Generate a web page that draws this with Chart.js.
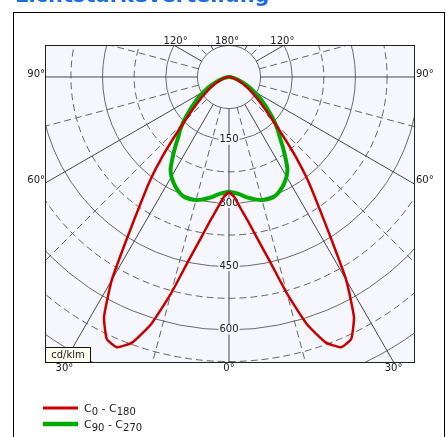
<!DOCTYPE html>
<html>
<head>
<meta charset="utf-8">
<script src="https://cdn.jsdelivr.net/npm/chart.js@4.4.1/dist/chart.umd.min.js"></script>
<style>
  html, body { margin: 0; padding: 0; background: #fff; }
  canvas { display: block; }
</style>
</head>
<body>
<canvas id="ldc" width="446" height="437"></canvas>
<script>
// gamma angles (deg from nadir) and intensities in cd/klm
const gammaAngles = [0, 2.5, 5, 7.5, 10, 12.5, 15, 17.5, 20, 22.5, 25, 27.5, 30, 32.5, 35, 37.5, 40, 42.5, 45,
  47.5, 50, 52.5, 55, 57.5, 60, 62.5, 65, 67.5, 70, 72.5, 75, 77.5, 80, 82.5, 85, 87.5, 90];
const c0 = [273, 285, 312, 345, 390, 448, 532, 615, 670, 694, 686, 642, 556, 445, 365, 305, 245, 190, 150,
  122, 100, 84, 71, 60, 50, 41, 34, 27, 21, 17, 13, 10, 7, 5, 3, 1, 0];
const c180 = [273, 285, 312, 345, 390, 448, 532, 615, 670, 694, 686, 642, 556, 445, 365, 305, 245, 190, 150,
  122, 100, 84, 71, 60, 50, 41, 34, 27, 21, 17, 13, 10, 7, 5, 3, 1, 0];
const c90 = [272, 275, 279, 286, 292, 298, 302, 304, 304, 300, 293, 284, 273, 258, 233, 210, 188, 172, 155,
  137, 120, 105, 92, 79, 67, 56, 46, 37, 29, 22, 16, 11, 8, 5, 3, 1, 0];
const c270 = [272, 275, 279, 286, 292, 298, 302, 304, 304, 300, 293, 284, 273, 258, 233, 210, 188, 172, 155,
  137, 120, 105, 92, 79, 67, 56, 46, 37, 29, 22, 16, 11, 8, 5, 3, 1, 0];

const ringValues = [75, 150, 225, 300, 375, 450, 525, 600, 675, 750, 825];
const ringLabels = [150, 300, 450, 600];
const spokeAngles = [0, 15, 30, 45, 60, 75, 90, 105, 120, 135, 150, 165, 180];
const angleTicks = [0, 30, 60, 90, 120, 180];

const plotBg = '#f5f7fd';
const txt = '#222';
const font10 = '10px "DejaVu Sans", Verdana, sans-serif';

function toXY(gamma, value, side) {
  const a = gamma * Math.PI / 180;
  return { x: side * value * Math.sin(a), y: -value * Math.cos(a) };
}
function polarLine(leftVals, rightVals) {
  const pts = [];
  for (let i = gammaAngles.length - 1; i >= 0; i--) pts.push(toXY(gammaAngles[i], leftVals[i], -1));
  for (let i = 0; i < gammaAngles.length; i++) pts.push(toXY(gammaAngles[i], rightVals[i], 1));
  return pts;
}

const ldcGrid = {
  id: 'ldcGrid',
  beforeDraw(chart) {
    const { ctx, chartArea: a } = chart;
    ctx.save();
    ctx.fillStyle = '#fff';
    ctx.fillRect(0, 0, chart.width, chart.height);
    // title, mostly cut off at the top
    ctx.fillStyle = '#1c6ee8';
    ctx.font = 'bold 21px "DejaVu Sans", Verdana, sans-serif';
    ctx.textBaseline = 'alphabetic';
    ctx.fillText('Lichtstärkeverteilung', 15, 2);
    // outer frame
    ctx.strokeStyle = '#000';
    ctx.lineWidth = 1;
    ctx.strokeRect(13.5, 12.5, 431, 500);
    ctx.fillStyle = plotBg;
    ctx.fillRect(a.left, a.top, a.right - a.left, a.bottom - a.top);
    ctx.restore();
  },
  beforeDatasetsDraw(chart) {
    const { ctx, chartArea: a, scales: { x, y } } = chart;
    const cx = x.getPixelForValue(0), cy = y.getPixelForValue(0);
    const px = v => x.getPixelForValue(v) - cx;
    ctx.save();
    ctx.beginPath();
    ctx.rect(a.left, a.top, a.right - a.left, a.bottom - a.top);
    ctx.clip();
    ctx.lineWidth = 1;
    // rings
    ringValues.forEach((v, i) => {
      const solid = i === 0 || i % 2 === 1;
      ctx.setLineDash(solid ? [] : [7, 4]);
      ctx.strokeStyle = solid ? '#6a6a6a' : '#666';
      ctx.beginPath();
      ctx.arc(cx, cy, px(v), 0, Math.PI * 2);
      ctx.stroke();
    });
    // spokes
    spokeAngles.forEach(g => {
      const solid = g % 30 === 0;
      ctx.setLineDash(solid ? [] : [7, 4]);
      ctx.strokeStyle = solid ? '#484848' : '#666';
      const sides = (g === 0 || g === 180) ? [1] : [-1, 1];
      sides.forEach(s => {
        const p0 = toXY(g, ringValues[0], s), p1 = toXY(g, 1200, s);
        ctx.beginPath();
        ctx.moveTo(x.getPixelForValue(p0.x), y.getPixelForValue(p0.y));
        ctx.lineTo(x.getPixelForValue(p1.x), y.getPixelForValue(p1.y));
        ctx.stroke();
      });
    });
    ctx.setLineDash([]);
    // ring labels
    ctx.font = font10;
    ctx.textAlign = 'center';
    ctx.textBaseline = 'middle';
    ringLabels.forEach(v => {
      const ly = cy + px(v) - 0.5;
      const w = ctx.measureText(String(v)).width;
      ctx.fillStyle = plotBg;
      ctx.fillRect(cx - w / 2 - 1, ly - 5, w + 2, 10);
      ctx.fillStyle = txt;
      ctx.fillText(String(v), cx, ly);
    });
    ctx.restore();
  },
  afterDatasetsDraw(chart) {
    const { ctx, chartArea: a, scales: { x, y } } = chart;
    const cx = x.getPixelForValue(0), cy = y.getPixelForValue(0);
    ctx.save();
    // plot border
    ctx.strokeStyle = '#222';
    ctx.lineWidth = 1;
    ctx.strokeRect(a.left + 0.5, a.top + 0.5, a.right - a.left, a.bottom - a.top);
    // unit box
    ctx.fillStyle = '#fffdee';
    ctx.fillRect(a.left, a.bottom - 15, 45, 15);
    ctx.strokeStyle = '#111';
    ctx.strokeRect(a.left + 0.5, a.bottom - 14.5, 45, 15);
    ctx.fillStyle = txt;
    ctx.font = font10;
    ctx.textAlign = 'center';
    ctx.textBaseline = 'middle';
    ctx.fillText('cd/klm', a.left + 23, a.bottom - 7);
    // angle labels where spokes meet the frame
    angleTicks.forEach(g => {
      const sides = (g === 0 || g === 180) ? [1] : [-1, 1];
      sides.forEach(s => {
        const r = g * Math.PI / 180;
        const dx = s * Math.sin(r), dy = Math.cos(r);
        let t = Infinity, edge = '';
        if (dx > 1e-9) { const tt = (a.right - cx) / dx; if (tt < t) { t = tt; edge = 'right'; } }
        if (dx < -1e-9) { const tt = (a.left - cx) / dx; if (tt < t) { t = tt; edge = 'left'; } }
        if (dy > 1e-9) { const tt = (a.bottom - cy) / dy; if (tt < t) { t = tt; edge = 'bottom'; } }
        if (dy < -1e-9) { const tt = (a.top - cy) / dy; if (tt < t) { t = tt; edge = 'top'; } }
        const ix = cx + dx * t, iy = cy + dy * t;
        const label = g + '°';
        if (edge === 'bottom') {
          ctx.textAlign = 'center'; ctx.textBaseline = 'top';
          ctx.fillText(label, ix, a.bottom + 1);
        } else if (edge === 'top') {
          ctx.textAlign = 'center'; ctx.textBaseline = 'alphabetic';
          ctx.fillText(label, ix - s * 2, a.top - 1);
        } else if (edge === 'left') {
          ctx.textAlign = 'right'; ctx.textBaseline = 'middle';
          ctx.fillText(label, a.left, iy - 3);
        } else {
          ctx.textAlign = 'left'; ctx.textBaseline = 'middle';
          ctx.fillText(label, a.right + 2, iy - 3);
        }
      });
    });
    ctx.restore();
  },
  afterDraw(chart) {
    const ctx = chart.ctx;
    ctx.save();
    chart.data.datasets.forEach((ds, i) => {
      const ly = i === 0 ? 408 : 424;
      ctx.strokeStyle = ds.borderColor;
      ctx.lineWidth = ds.borderWidth + 0.5;
      ctx.beginPath();
      ctx.moveTo(43, ly);
      ctx.lineTo(78, ly);
      ctx.stroke();
      let tx = 84;
      const base = ly + 4;
      ctx.fillStyle = txt;
      ctx.textAlign = 'left';
      ctx.textBaseline = 'alphabetic';
      ds.labelParts.forEach((p, j) => {
        ctx.font = j % 2 ? '10px "DejaVu Sans", Verdana, sans-serif' : '11px "DejaVu Sans", Verdana, sans-serif';
        ctx.fillText(p, tx, j % 2 ? base + 3 : base);
        tx += ctx.measureText(p).width;
      });
    });
    ctx.restore();
  }
};

new Chart(document.getElementById('ldc'), {
  type: 'scatter',
  data: {
    datasets: [{
      label: 'C0 - C180',
      labelParts: ['C', '0', ' - C', '180'],
      data: polarLine(c180, c0),
      showLine: true,
      borderColor: '#c80000',
      borderWidth: 2.5,
      pointRadius: 0,
      borderJoinStyle: 'round',
      tension: 0.15,
      fill: false
    }, {
      label: 'C90 - C270',
      labelParts: ['C', '90', ' - C', '270'],
      data: polarLine(c270, c90),
      showLine: true,
      borderColor: '#00aa00',
      borderWidth: 4,
      pointRadius: 0,
      borderJoinStyle: 'round',
      tension: 0.15,
      fill: false
    }]
  },
  options: {
    responsive: false,
    animation: false,
    events: [],
    layout: { padding: { left: 45, top: 45, right: 32, bottom: 75 } },
    scales: {
      x: { type: 'linear', min: -436.5, max: 438.9, display: false },
      y: { type: 'linear', min: -676.2, max: 75.9, display: false }
    },
    plugins: { legend: { display: false }, tooltip: { enabled: false } }
  },
  plugins: [ldcGrid]
});
</script>
</body>
</html>
